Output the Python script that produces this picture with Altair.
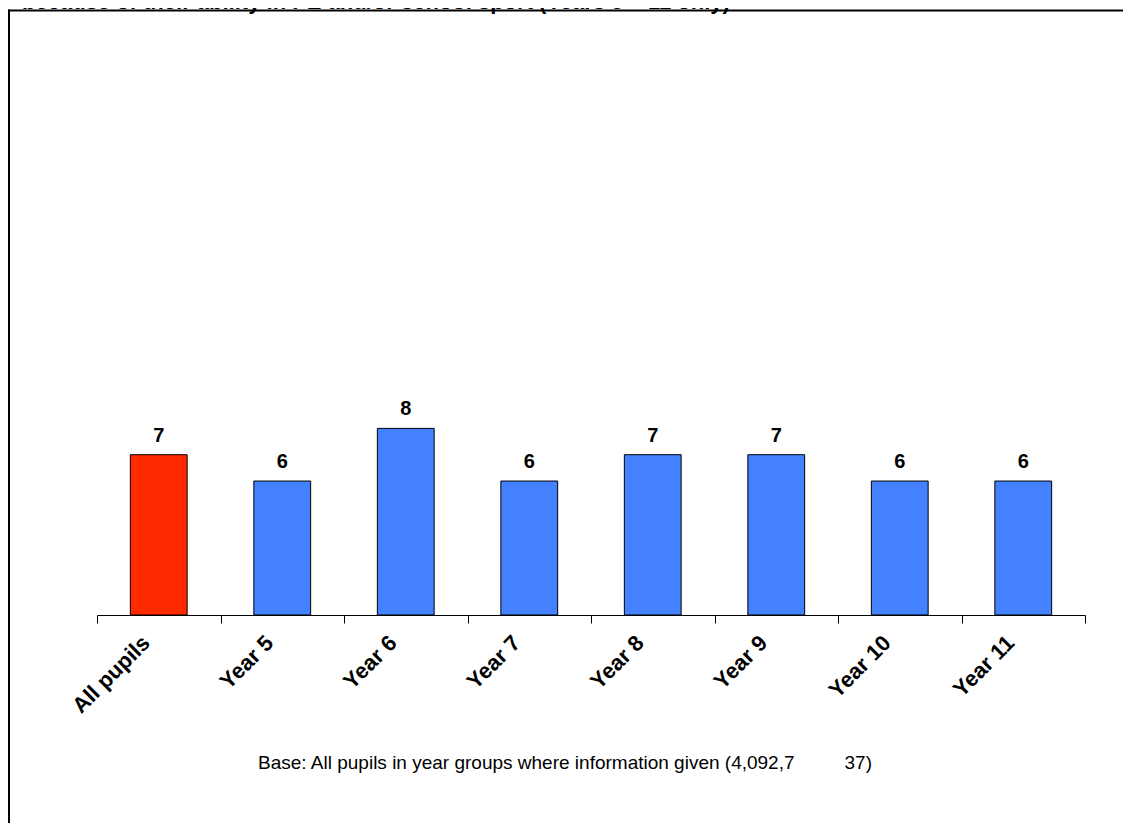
import altair as alt
import pandas as pd

categories = ["All pupils", "Year 5", "Year 6", "Year 7", "Year 8", "Year 9", "Year 10", "Year 11"]
values = [7.0, 5.85, 8.15, 5.85, 7.0, 7.0, 5.85, 5.85]
labels = ["7", "6", "8", "6", "7", "7", "6", "6"]

title_text = "because of their ability in PE and/or school sport (Years 5 \u2013 11 only)"
note_left = "Base: All pupils in year groups where information given (4,092,7"
note_right = "37)"

df = pd.DataFrame({"category": categories, "value": values, "label": labels})

FONT = "Liberation Sans"
RED = "#FF2A00"
BLUE = "#4381FF"

PAD_L, PAD_T = 89, 149

x = alt.X("category:N", sort=categories, title=None,
          scale=alt.Scale(paddingInner=0, paddingOuter=0),
          axis=alt.Axis(labelAngle=-45, labelAlign="right", labelBaseline="middle",
                        labelFont=FONT, labelFontSize=22, labelFontWeight="bold",
                        labelColor="black", labelPadding=16, labelOffset=-13,
                        tickBand="extent", tickSize=8, tickColor="black",
                        domainColor="black", domainWidth=1, tickWidth=1,
                        grid=False, labelLimit=300))
y = alt.Y("value:Q", axis=None, scale=alt.Scale(domain=[0, 20]))

bars = alt.Chart(df).mark_bar(stroke="black", strokeWidth=1,
                              width=alt.RelativeBandSize(0.46)).encode(
    x=x, y=y,
    color=alt.condition(alt.datum.category == "All pupils", alt.value(RED), alt.value(BLUE)),
)

text = alt.Chart(df).mark_text(font=FONT, fontSize=20, fontWeight="bold",
                               baseline="alphabetic", dy=-13, color="black").encode(
    x=alt.X("category:N", sort=categories), y=y, text="label:N")

one = pd.DataFrame({"a": [0]})
frame_top = alt.Chart(one).mark_rule(stroke="black", strokeWidth=2).encode(
    x=alt.value(0 - PAD_L), x2=alt.value(1126 - PAD_L), y=alt.value(2.5 - PAD_T))
frame_left = alt.Chart(one).mark_rule(stroke="black", strokeWidth=2).encode(
    x=alt.value(1 - PAD_L), y=alt.value(1.5 - PAD_T), y2=alt.value(840 - PAD_T))

title = alt.Chart(one).mark_text(font=FONT, fontSize=22, fontWeight="bold", align="left",
                                 baseline="alphabetic", color="black").encode(
    x=alt.value(14 - PAD_L), y=alt.value(0.5 - PAD_T), text=alt.value(title_text))

note1 = alt.Chart(one).mark_text(font=FONT, fontSize=19, align="left",
                                 baseline="alphabetic", color="black").encode(
    x=alt.value(250 - PAD_L), y=alt.value(761 - PAD_T), text=alt.value(note_left))
note2 = alt.Chart(one).mark_text(font=FONT, fontSize=19, align="right",
                                 baseline="alphabetic", color="black").encode(
    x=alt.value(864 - PAD_L), y=alt.value(761 - PAD_T), text=alt.value(note_right))

chart = alt.layer(frame_top, frame_left, bars, text, title, note1, note2).properties(
    width=988, height=458,
    autosize=alt.AutoSizeParams(type="none"),
    padding={"left": PAD_L, "top": PAD_T, "right": 38, "bottom": 208},
    background="white",
).configure_view(stroke=None)

chart.save("out.html", embed_options={"renderer": "svg", "actions": False})
